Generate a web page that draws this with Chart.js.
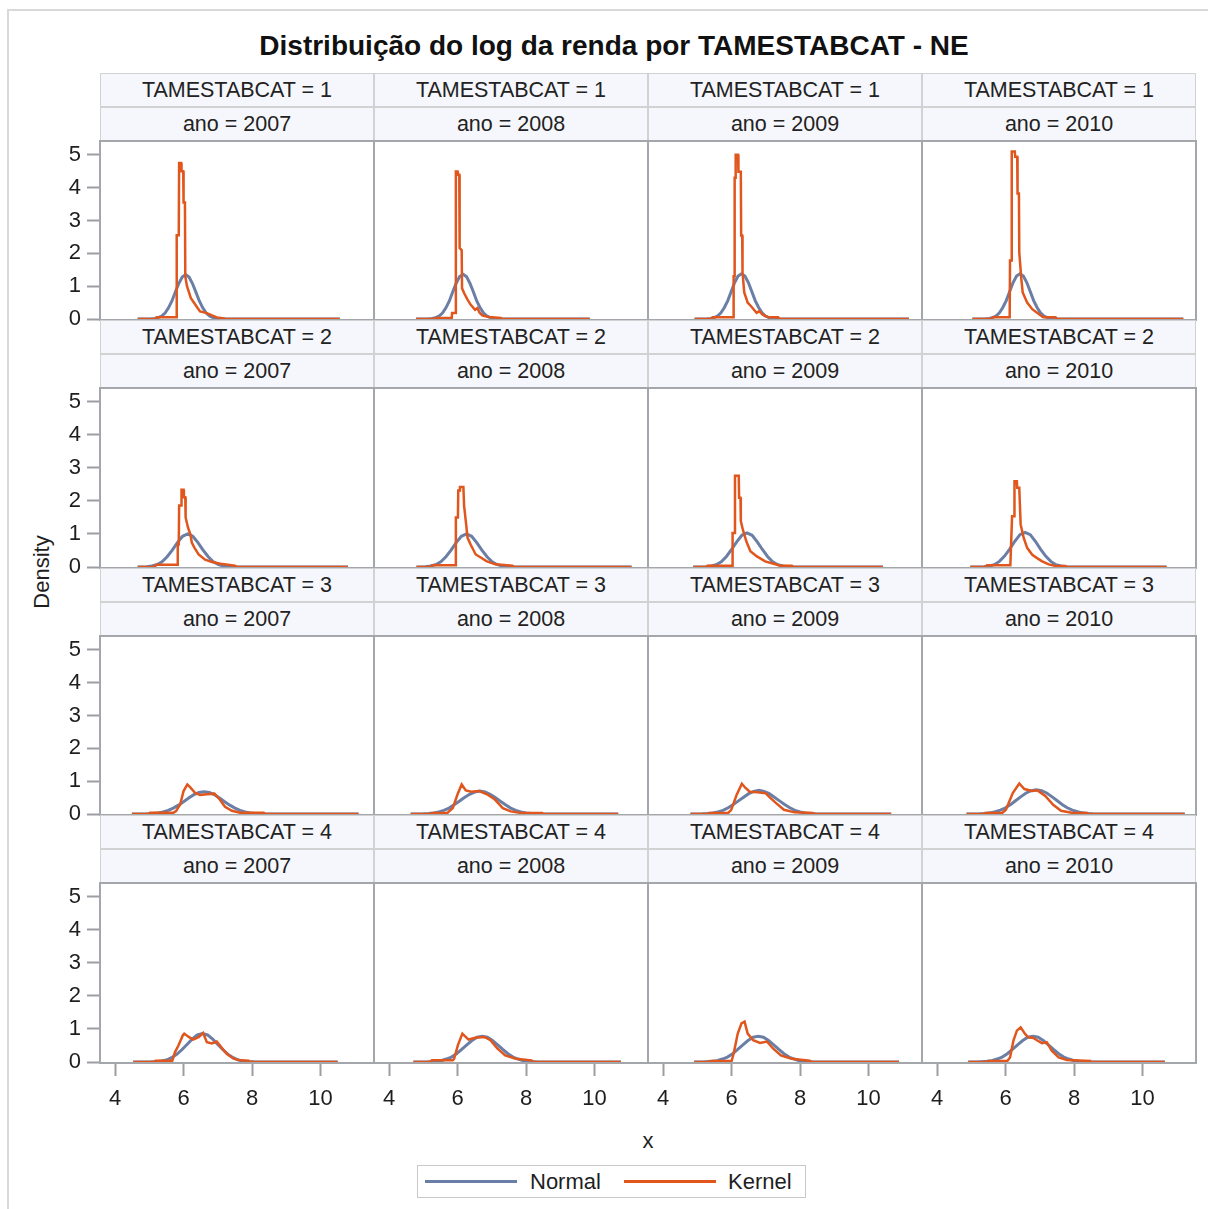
<!DOCTYPE html>
<html lang="pt">
<head>
<meta charset="UTF-8">
<title>Distribuição do log da renda por TAMESTABCAT - NE</title>
<script src="https://cdn.jsdelivr.net/npm/chart.js@4.4.1/dist/chart.umd.min.js"></script>
<style>
  body { margin: 0; background: #fff; font-family: Arial, "Liberation Sans", sans-serif; color: #1e1e1e; }
  #page { position: relative; width: 1208px; height: 1209px; overflow: hidden; }
  #outer { position: absolute; left: 7px; top: 9px; width: 1300px; height: 1300px; border: 2px solid #d9d9d9; }
  #title { position: absolute; left: 0; width: 1228px; top: 30px; line-height: 32px; text-align: center; font-weight: bold; font-size: 28px; color: #111; }
  .head { position: absolute; box-sizing: border-box; height: 34px; width: 274px; line-height: 32px; text-align: center;
          font-size: 21.5px; background: #f6f7fc; border: 1px solid #d2d2d2; color: #222; }
  canvas.panel { position: absolute; }
  #ylab { position: absolute; left: -58px; top: 557px; width: 200px; height: 30px; line-height: 30px; text-align: center;
          transform: rotate(-90deg); font-size: 22px; }
  #xlab { position: absolute; left: 598px; top: 1126px; width: 100px; line-height: 30px; text-align: center; font-size: 22px; }
  #legend { position: absolute; left: 417px; top: 1165px; width: 389px; height: 33px; box-sizing: border-box; border: 1px solid #c8c8c8; }
  #legend .swatch { position: absolute; top: 14px; height: 3px; width: 92px; }
  #legend .txt { position: absolute; top: 0; line-height: 31px; font-size: 22px; }
</style>
</head>
<body>
<div id="page">
  <div id="outer"></div>
  <div id="title">Distribuição do log da renda por TAMESTABCAT - NE</div>
  <div id="ylab">Density</div>
  <div id="xlab">x</div>
  <div id="legend">
    <div class="swatch" style="left:7px;background:#6b7fa6"></div>
    <div class="txt" style="left:112px">Normal</div>
    <div class="swatch" style="left:206px;background:#e0561c"></div>
    <div class="txt" style="left:310px">Kernel</div>
  </div>
</div>
<script>
  // panel categories and axis ticks
  const sizeCats = ['1', '2', '3', '4'];
  const years = ['2007', '2008', '2009', '2010'];
  const xTicks = [4, 6, 8, 10];
  const yTicks = [0, 1, 2, 3, 4, 5];

  // curves as [x, density] pairs, one series per year (2007..2010)
  const normalCat1 = [
    [[4.66,0],[5.06,.005],[5.16,.015],[5.26,.04],[5.36,.09],[5.46,.18],[5.56,.34],[5.66,.55],[5.76,.82],[5.86,1.08],[5.96,1.28],[6.06,1.35],[6.16,1.28],[6.26,1.08],[6.36,.82],[6.46,.55],[6.56,.34],[6.66,.18],[6.76,.09],[6.86,.04],[6.96,.015],[7.06,.005],[10.56,0]],
    [[4.79,0],[5.16,.005],[5.26,.015],[5.36,.04],[5.46,.09],[5.56,.18],[5.66,.34],[5.76,.55],[5.86,.83],[5.96,1.09],[6.06,1.29],[6.16,1.36],[6.26,1.29],[6.36,1.09],[6.46,.83],[6.56,.55],[6.66,.34],[6.76,.18],[6.86,.09],[6.96,.04],[7.06,.015],[7.16,.005],[9.86,0]],
    [[4.92,0],[5.29,.005],[5.39,.015],[5.49,.04],[5.59,.09],[5.69,.19],[5.79,.35],[5.89,.56],[5.99,.84],[6.09,1.11],[6.19,1.31],[6.29,1.38],[6.39,1.31],[6.49,1.11],[6.59,.84],[6.69,.56],[6.79,.35],[6.89,.19],[6.99,.09],[7.09,.04],[7.19,.015],[7.29,.005],[11.18,0]],
    [[5.03,0],[5.42,.005],[5.52,.015],[5.62,.04],[5.72,.09],[5.82,.19],[5.92,.35],[6.02,.56],[6.12,.84],[6.22,1.11],[6.32,1.31],[6.42,1.38],[6.52,1.31],[6.62,1.11],[6.72,.84],[6.82,.56],[6.92,.35],[7.02,.19],[7.12,.09],[7.22,.04],[7.32,.015],[7.42,.005],[11.19,0]]
  ];
  const kernelCat1 = [
    [[4.66,0],[5.2,0],[5.22,.05],[5.79,.05],[5.8,2.55],[5.86,2.55],[5.87,4.75],[5.93,4.75],[5.94,4.5],[5.99,4.5],[6.0,3.55],[6.04,3.55],[6.05,1.3],[6.1,1.0],[6.21,.64],[6.34,.44],[6.48,.23],[6.68,.18],[6.83,.11],[6.97,.05],[7.19,.02],[7.22,0],[10.56,0]],
    [[4.79,0],[5.3,0],[5.35,.03],[5.83,.03],[5.84,.18],[5.94,.18],[5.95,4.49],[6.0,4.49],[6.01,4.39],[6.05,4.39],[6.06,2.16],[6.12,2.1],[6.13,.94],[6.19,.79],[6.29,.59],[6.38,.44],[6.51,.28],[6.58,.33],[6.64,.2],[6.72,.11],[6.91,.06],[7.26,.03],[7.3,0],[9.86,0]],
    [[4.92,0],[5.4,0],[5.45,.05],[6.05,.05],[6.06,1.3],[6.08,1.3],[6.09,4.3],[6.11,4.3],[6.12,5.0],[6.19,5.0],[6.2,4.48],[6.27,4.48],[6.28,2.54],[6.31,2.54],[6.32,1.42],[6.37,.81],[6.47,.5],[6.6,.35],[6.73,.19],[6.81,.24],[6.9,.14],[6.99,.09],[7.09,.05],[7.36,.05],[7.4,0],[11.18,0]],
    [[5.03,0],[5.58,0],[5.62,.05],[6.12,.05],[6.13,1.78],[6.17,1.78],[6.18,5.1],[6.27,5.1],[6.28,4.94],[6.34,4.94],[6.35,3.82],[6.39,3.82],[6.4,2.03],[6.46,1.22],[6.5,.81],[6.63,.5],[6.78,.3],[6.91,.2],[7.04,.1],[7.1,.05],[7.46,.05],[7.5,0],[11.19,0]]
  ];
  const normalCat2 = [
    [[4.66,0],[4.92,.01],[5.07,.03],[5.22,.07],[5.37,.16],[5.52,.31],[5.67,.51],[5.82,.74],[5.97,.93],[6.12,1.0],[6.27,.93],[6.42,.74],[6.57,.51],[6.72,.31],[6.87,.16],[7.02,.07],[7.17,.03],[7.32,.01],[10.8,0]],
    [[4.8,0],[5.06,.01],[5.21,.03],[5.36,.07],[5.51,.16],[5.66,.31],[5.81,.51],[5.96,.74],[6.11,.93],[6.26,1.0],[6.41,.93],[6.56,.74],[6.71,.51],[6.86,.31],[7.01,.16],[7.16,.07],[7.31,.03],[7.46,.01],[11.08,0]],
    [[4.88,0],[5.25,.01],[5.4,.03],[5.55,.07],[5.7,.16],[5.85,.32],[6.0,.53],[6.15,.76],[6.3,.96],[6.45,1.03],[6.6,.96],[6.75,.76],[6.9,.53],[7.05,.32],[7.2,.16],[7.35,.07],[7.5,.03],[7.65,.01],[10.42,0]],
    [[4.97,0],[5.37,.01],[5.52,.03],[5.67,.07],[5.82,.17],[5.97,.33],[6.12,.54],[6.27,.78],[6.42,.98],[6.57,1.05],[6.72,.98],[6.87,.78],[7.02,.54],[7.17,.33],[7.32,.17],[7.47,.07],[7.62,.03],[7.77,.01],[10.7,0]]
  ];
  const kernelCat2 = [
    [[4.66,0],[5.15,0],[5.2,.07],[5.82,.07],[5.83,.68],[5.86,.68],[5.87,1.86],[5.93,1.86],[5.94,2.34],[6.0,2.34],[6.01,2.11],[6.05,2.11],[6.06,1.5],[6.13,1.19],[6.2,.99],[6.24,.74],[6.32,.58],[6.44,.38],[6.63,.22],[6.83,.15],[7.08,.1],[7.5,.04],[7.55,0],[10.8,0]],
    [[4.8,0],[5.22,0],[5.26,.05],[5.93,.05],[5.95,1.5],[6.01,1.5],[6.02,2.32],[6.06,2.32],[6.07,2.42],[6.17,2.42],[6.19,1.86],[6.25,1.3],[6.29,.89],[6.38,.68],[6.53,.38],[6.69,.28],[6.84,.18],[7.1,.08],[7.6,.04],[7.65,0],[11.08,0]],
    [[4.88,0],[5.26,0],[5.3,.04],[6.02,.04],[6.03,1.03],[6.09,1.03],[6.1,2.76],[6.21,2.76],[6.22,2.1],[6.26,2.1],[6.27,1.39],[6.33,1.13],[6.43,.78],[6.55,.48],[6.74,.32],[6.98,.17],[7.23,.1],[7.42,.04],[7.76,.04],[7.8,0],[10.42,0]],
    [[4.97,0],[5.42,0],[5.46,.05],[6.14,.05],[6.19,1.54],[6.25,1.54],[6.26,2.6],[6.33,2.6],[6.34,2.4],[6.4,2.4],[6.44,1.29],[6.53,.88],[6.63,.58],[6.78,.37],[6.92,.27],[7.07,.17],[7.26,.08],[7.46,.03],[7.75,.03],[7.8,0],[10.7,0]]
  ];
  const normalCat3 = [
    [[4.49,0],[4.95,.007],[5.1,.016],[5.25,.033],[5.4,.063],[5.55,.11],[5.7,.18],[5.85,.27],[6.0,.375],[6.15,.49],[6.3,.59],[6.45,.655],[6.6,.68],[6.75,.655],[6.9,.59],[7.05,.49],[7.2,.375],[7.35,.27],[7.5,.18],[7.65,.11],[7.8,.063],[7.95,.033],[8.1,.016],[8.25,.007],[11.11,0]],
    [[4.63,0],[5.0,.008],[5.15,.017],[5.3,.03],[5.45,.06],[5.6,.11],[5.75,.18],[5.9,.28],[6.05,.39],[6.2,.5],[6.35,.6],[6.5,.67],[6.65,.7],[6.8,.67],[6.95,.6],[7.1,.5],[7.25,.39],[7.4,.28],[7.55,.18],[7.7,.11],[7.85,.06],[8.0,.03],[8.15,.017],[8.3,.008],[10.69,0]],
    [[4.8,0],[5.15,.008],[5.3,.017],[5.45,.03],[5.6,.06],[5.75,.11],[5.9,.19],[6.05,.29],[6.2,.4],[6.35,.51],[6.5,.62],[6.65,.69],[6.8,.72],[6.95,.69],[7.1,.62],[7.25,.51],[7.4,.4],[7.55,.29],[7.7,.19],[7.85,.11],[8.0,.06],[8.15,.03],[8.3,.017],[8.45,.008],[10.66,0]],
    [[4.86,0],[5.25,.008],[5.4,.018],[5.55,.035],[5.7,.07],[5.85,.12],[6.0,.19],[6.15,.29],[6.3,.41],[6.45,.53],[6.6,.64],[6.75,.71],[6.9,.74],[7.05,.71],[7.2,.64],[7.35,.53],[7.5,.41],[7.65,.29],[7.8,.19],[7.95,.12],[8.1,.07],[8.25,.035],[8.4,.018],[8.55,.008],[11.23,0]]
  ];
  const kernelCat3 = [
    [[4.49,0],[4.98,0],[5.02,.04],[5.7,.04],[5.78,.09],[5.9,.29],[6.0,.7],[6.11,.9],[6.19,.82],[6.34,.64],[6.48,.58],[6.68,.6],[6.9,.62],[7.05,.45],[7.21,.22],[7.41,.1],[7.65,.04],[8.34,.04],[8.38,0],[11.11,0]],
    [[4.63,0],[5.2,0],[5.25,.03],[5.7,.03],[5.86,.18],[6.0,.6],[6.12,.9],[6.24,.72],[6.4,.68],[6.63,.7],[6.86,.6],[7.09,.44],[7.32,.18],[7.55,.08],[7.85,.03],[8.47,.03],[8.5,0],[10.69,0]],
    [[4.8,0],[5.3,0],[5.35,.03],[5.9,.03],[5.99,.13],[6.15,.59],[6.3,.92],[6.4,.8],[6.53,.68],[6.76,.66],[7.0,.63],[7.1,.52],[7.3,.33],[7.53,.13],[7.84,.05],[8.37,.03],[8.4,0],[10.66,0]],
    [[4.86,0],[5.35,0],[5.4,.03],[5.9,.03],[6.01,.13],[6.21,.64],[6.4,.93],[6.55,.76],[6.78,.7],[6.93,.72],[7.16,.55],[7.39,.28],[7.62,.1],[7.93,.04],[8.39,.03],[8.42,0],[11.23,0]]
  ];
  const normalCat4 = [
    [[4.53,0],[5.05,.005],[5.2,.01],[5.35,.03],[5.5,.06],[5.65,.13],[5.8,.23],[5.95,.37],[6.1,.53],[6.25,.69],[6.4,.82],[6.55,.86],[6.7,.82],[6.85,.69],[7.0,.53],[7.15,.37],[7.3,.23],[7.45,.13],[7.6,.06],[7.75,.03],[7.9,.01],[8.05,.005],[10.5,0]],
    [[4.71,0],[5.07,.003],[5.22,.01],[5.37,.02],[5.52,.04],[5.67,.09],[5.82,.15],[5.97,.25],[6.12,.38],[6.27,.52],[6.42,.65],[6.57,.75],[6.72,.78],[6.87,.75],[7.02,.65],[7.17,.52],[7.32,.38],[7.47,.25],[7.62,.15],[7.77,.09],[7.92,.04],[8.07,.02],[8.22,.01],[8.37,.003],[10.77,0]],
    [[4.91,0],[5.13,.003],[5.28,.01],[5.43,.02],[5.58,.04],[5.73,.09],[5.88,.15],[6.03,.25],[6.18,.38],[6.33,.52],[6.48,.65],[6.63,.75],[6.78,.78],[6.93,.75],[7.08,.65],[7.23,.52],[7.38,.38],[7.53,.25],[7.68,.15],[7.83,.09],[7.98,.04],[8.13,.02],[8.28,.01],[8.43,.003],[10.89,0]],
    [[4.91,0],[5.15,.003],[5.3,.01],[5.45,.02],[5.6,.04],[5.75,.09],[5.9,.15],[6.05,.25],[6.2,.38],[6.35,.52],[6.5,.65],[6.65,.75],[6.8,.78],[6.95,.75],[7.1,.65],[7.25,.52],[7.4,.38],[7.55,.25],[7.7,.15],[7.85,.09],[8.0,.04],[8.15,.02],[8.3,.01],[8.45,.003],[10.65,0]]
  ];
  const kernelCat4 = [
    [[4.53,0],[5.15,0],[5.18,.04],[5.67,.04],[5.75,.3],[5.85,.5],[5.98,.81],[6.02,.86],[6.15,.76],[6.28,.68],[6.45,.76],[6.57,.88],[6.68,.6],[6.83,.56],[6.97,.62],[7.12,.42],[7.26,.25],[7.46,.1],[7.65,.05],[7.9,.04],[7.93,0],[10.5,0]],
    [[4.71,0],[5.2,0],[5.25,.05],[5.86,.05],[5.9,.1],[6.01,.51],[6.14,.86],[6.32,.68],[6.55,.74],[6.78,.76],[6.96,.66],[7.16,.41],[7.39,.2],[7.7,.1],[8.16,.05],[8.2,0],[10.77,0]],
    [[4.91,0],[5.33,0],[5.37,.03],[6.0,.03],[6.06,.25],[6.18,.86],[6.29,1.17],[6.38,1.22],[6.47,.86],[6.63,.66],[6.83,.58],[7.03,.62],[7.21,.41],[7.44,.2],[7.75,.1],[8.28,.04],[8.32,0],[10.89,0]],
    [[4.91,0],[5.45,0],[5.5,.03],[6.05,.03],[6.13,.14],[6.23,.65],[6.33,.95],[6.44,1.05],[6.57,.85],[6.66,.75],[6.81,.73],[6.93,.65],[7.06,.57],[7.2,.6],[7.35,.34],[7.55,.14],[7.79,.06],[8.47,.03],[8.5,0],[10.65,0]]
  ];

  const normalByCat = [normalCat1, normalCat2, normalCat3, normalCat4];
  const kernelByCat = [kernelCat1, kernelCat2, kernelCat3, kernelCat4];

  const BLUE = '#6b7fa6';
  const ORANGE = '#e0561c';
  const FRAME = '#a3a7ab';
  const TICK = '#9a9ea2';
  const TEXT = '#1e1e1e';
  const FONT = 'Arial, "Liberation Sans", sans-serif';

  // panel grid geometry
  const COL_X = [100, 374, 648, 922];
  const COL_W = 274;
  const ROW_Y = [73, 320, 568, 815];
  const HEAD_H = 34;
  const LAST_BOTTOM = 1063;
  const PADL = 100;   // room for the y axis
  const PADB = 62;    // room for the x axis

  const page = document.getElementById('page');

  // grey outline around each plot area
  const panelFrame = {
    id: 'panelFrame',
    afterDatasetsDraw(chart) {
      const a = chart.chartArea;
      const ctx = chart.ctx;
      ctx.save();
      ctx.strokeStyle = FRAME;
      ctx.lineWidth = 2;
      ctx.strokeRect(a.left, a.top, a.right - a.left, a.bottom - a.top);
      ctx.restore();
    }
  };

  const toPoints = pairs => pairs.map(p => ({ x: p[0], y: p[1] }));

  function addHeader(text, left, top) {
    const d = document.createElement('div');
    d.className = 'head';
    d.style.left = left + 'px';
    d.style.top = top + 'px';
    d.textContent = text;
    page.appendChild(d);
  }

  sizeCats.forEach((cat, r) => {
    const plotTop = ROW_Y[r] + 2 * HEAD_H;
    const plotBottom = r < 3 ? ROW_Y[r + 1] : LAST_BOTTOM;
    const plotH = plotBottom - plotTop;
    const bottomRow = r === sizeCats.length - 1;

    years.forEach((year, c) => {
      addHeader('TAMESTABCAT = ' + cat, COL_X[c], ROW_Y[r]);
      addHeader('ano = ' + year, COL_X[c], ROW_Y[r] + HEAD_H);

      const canvas = document.createElement('canvas');
      canvas.className = 'panel';
      canvas.width = PADL + COL_W + 2;
      canvas.height = 2 + plotH + PADB;
      canvas.style.left = (COL_X[c] - PADL) + 'px';
      canvas.style.top = (plotTop - 2) + 'px';
      page.appendChild(canvas);

      const showY = c === 0;
      new Chart(canvas, {
        type: 'scatter',
        data: {
          datasets: [
            { label: 'Kernel', data: toPoints(kernelByCat[r][c]), showLine: true, borderColor: ORANGE,
              borderWidth: 2.5, pointRadius: 0, order: 0 },
            { label: 'Normal', data: toPoints(normalByCat[r][c]), showLine: true, borderColor: BLUE,
              borderWidth: 3, pointRadius: 0, order: 1 }
          ]
        },
        options: {
          responsive: false,
          animation: false,
          events: [],
          layout: { autoPadding: false, padding: { top: 2, right: 2, left: 0, bottom: 0 } },
          plugins: { legend: { display: false }, tooltip: { enabled: false } },
          scales: {
            x: {
              type: 'linear', min: 3.56, max: 11.56,
              afterBuildTicks: s => { s.ticks = xTicks.map(v => ({ value: v })); },
              afterFit: s => { s.height = PADB; s.paddingLeft = 0; s.paddingRight = 0; },
              border: { display: false },
              grid: { display: bottomRow, drawOnChartArea: false, drawTicks: true, tickLength: 13, tickColor: TICK, tickWidth: 2 },
              ticks: { display: bottomRow, padding: 10, color: TEXT, font: { family: FONT, size: 22 }, maxRotation: 0, autoSkip: false }
            },
            y: {
              type: 'linear', min: -0.03, max: 5.42,
              afterBuildTicks: s => { s.ticks = yTicks.map(v => ({ value: v })); },
              afterFit: s => { s.width = PADL; s.paddingTop = 0; s.paddingBottom = 0; },
              border: { display: false },
              grid: { display: showY, drawOnChartArea: false, drawTicks: true, tickLength: 13, tickColor: TICK, tickWidth: 2 },
              ticks: { display: showY, padding: 6, color: TEXT, font: { family: FONT, size: 22 } }
            }
          }
        },
        plugins: [panelFrame]
      });
    });
  });
</script>
</body>
</html>
